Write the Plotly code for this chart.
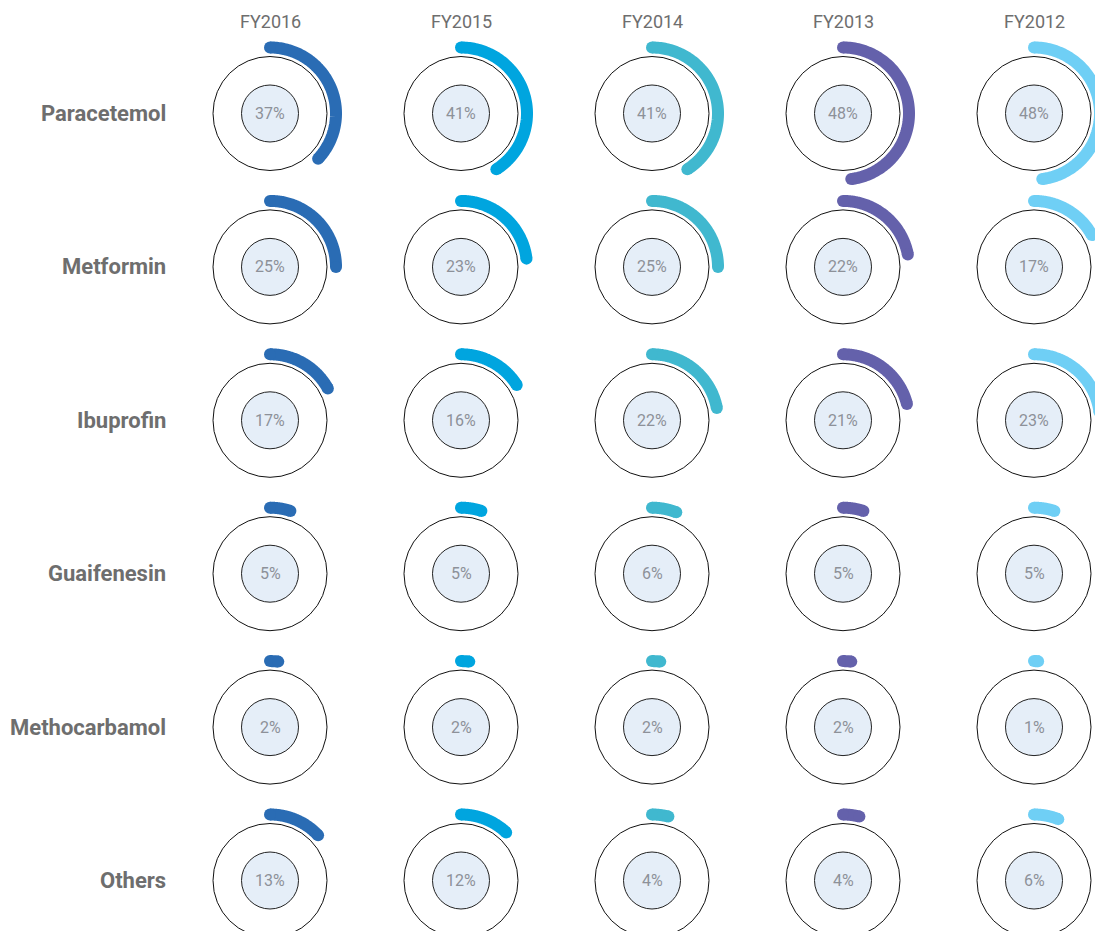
import numpy as np
import plotly.graph_objects as go

# Market share (%) by product and fiscal year
years = ["FY2016", "FY2015", "FY2014", "FY2013", "FY2012"]
drugs = ["Paracetemol", "Metformin", "Ibuprofin", "Guaifenesin", "Methocarbamol", "Others"]
share_fy2016 = [37, 25, 17, 5, 2, 13]
share_fy2015 = [41, 23, 16, 5, 2, 12]
share_fy2014 = [41, 25, 22, 6, 2, 4]
share_fy2013 = [48, 22, 21, 5, 2, 4]
share_fy2012 = [48, 17, 23, 5, 1, 6]
shares = [share_fy2016, share_fy2015, share_fy2014, share_fy2013, share_fy2012]
colors = ["#2a6cb4", "#00a5df", "#40b8cf", "#6461ab", "#6fcff5"]

W, H = 1095, 931
COL_X0, COL_DX = 270, 191
ROW_Y0, ROW_DY = 113.5, 153.4
R_OUTER, R_INNER, R_ARC = 57, 28.5, 66
ARC_W = 12

FONT = "Roboto, Arial, sans-serif"
GRAY = "#6e6e6e"

fig = go.Figure()
shapes = []
annotations = []

for ci, (year, vals, col) in enumerate(zip(years, shares, colors)):
    cx = COL_X0 + ci * COL_DX
    annotations.append(dict(x=cx, y=21, text=year, showarrow=False,
                            font=dict(family=FONT, size=18, color=GRAY),
                            xanchor="center", yanchor="middle"))
    for ri, v in enumerate(vals):
        cy = ROW_Y0 + ri * ROW_DY
        # outer ring and inner disc
        shapes.append(dict(type="circle", xref="x", yref="y",
                           x0=cx - R_OUTER, x1=cx + R_OUTER,
                           y0=cy - R_OUTER, y1=cy + R_OUTER,
                           line=dict(color="#111111", width=1), fillcolor="white",
                           layer="below"))
        shapes.append(dict(type="circle", xref="x", yref="y",
                           x0=cx - R_INNER, x1=cx + R_INNER,
                           y0=cy - R_INNER, y1=cy + R_INNER,
                           line=dict(color="#222222", width=1), fillcolor="#e5eef8",
                           layer="below"))
        # share arc, clockwise from 12 o'clock
        theta = np.linspace(0, 2 * np.pi * v / 100, 120)
        ax = cx + R_ARC * np.sin(theta)
        ay = cy - R_ARC * np.cos(theta)
        fig.add_trace(go.Scatter(x=ax, y=ay, mode="lines",
                                 line=dict(color=col, width=ARC_W, simplify=False),
                                 hoverinfo="skip", showlegend=False))
        # rounded ends
        fig.add_trace(go.Scatter(x=[ax[0], ax[-1]], y=[ay[0], ay[-1]], mode="markers",
                                 marker=dict(color=col, size=ARC_W, line=dict(width=0)),
                                 hoverinfo="skip", showlegend=False))
        annotations.append(dict(x=cx, y=cy, text=f"{v}%", showarrow=False,
                                font=dict(family=FONT, size=16, color="#8d9199"),
                                xanchor="center", yanchor="middle"))

for ri, name in enumerate(drugs):
    cy = ROW_Y0 + ri * ROW_DY
    annotations.append(dict(x=168, y=cy, text=f"<b>{name}</b>", showarrow=False,
                            font=dict(family=FONT, size=22, color=GRAY),
                            xanchor="right", yanchor="middle"))

fig.update_layout(
    width=W, height=H,
    margin=dict(l=0, r=0, t=0, b=0),
    paper_bgcolor="white", plot_bgcolor="white",
    xaxis=dict(range=[0, W], visible=False, fixedrange=True),
    yaxis=dict(range=[H, 0], visible=False, fixedrange=True),
    shapes=shapes, annotations=annotations,
)

fig.write_html("out.html")
